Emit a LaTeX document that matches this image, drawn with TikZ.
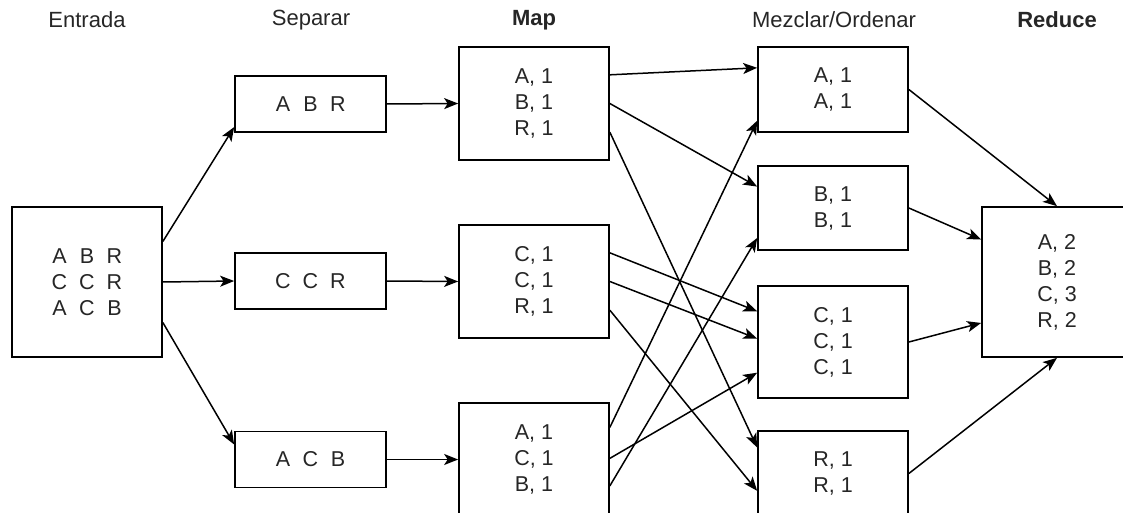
\documentclass[tikz,border=0pt]{standalone}
\usepackage{fontspec}
\setmainfont{Liberation Sans}
\usetikzlibrary{arrows.meta,calc}
% one letter of a split record, on a fixed grid
\newcommand\slot[1]{\makebox[27.5pt][c]{#1}}

\begin{document}
\begin{tikzpicture}[x=1pt,y=-1pt,
  box/.style={draw=black, line width=1.7pt, fill=white, inner sep=0pt,
    align=center, font=\fontsize{21.5}{26}\selectfont, text=black!85},
  widebox/.style={box, minimum width=150pt},
  head/.style={font=\fontsize{22}{26}\selectfont, text=black!85},
  conn/.style={line width=1.5pt, -{Stealth[length=14pt,width=11pt,inset=3.5pt]}}]

\clip (0,0) rectangle (1123,513);

% column titles
\node[head] (tEnt) at (87,20) {Entrada};
\node[head] (tSep) at (311,20) {Separar};
\node[head,font=\fontsize{22}{26}\selectfont\bfseries] (tMap) at (534,20) {Map};
\node[head] (tMez) at (834,20) {Mezclar/Ordenar};
\node[head,font=\fontsize{22}{26}\selectfont\bfseries] (tRed) at (1057,20) {Reduce};

% input
\node[widebox, minimum height=150pt] (ent) at (87,282)
  {\slot{A}\slot{B}\slot{R}\\\slot{C}\slot{C}\slot{R}\\\slot{A}\slot{C}\slot{B}};

% splits
\node[box, minimum width=151pt, minimum height=56pt] (sep1) at (310.5,104) {\slot{A}\slot{B}\slot{R}};
\node[box, minimum width=151pt, minimum height=56pt] (sep2) at (310.5,281) {\slot{C}\slot{C}\slot{R}};
\node[box, minimum width=151pt, minimum height=56pt] (sep3) at (310.5,459.5) {\slot{A}\slot{C}\slot{B}};

% map
\node[widebox, minimum height=113pt] (map1) at (534,103.5) {A, 1\\B, 1\\R, 1};
\node[widebox, minimum height=113pt] (map2) at (534,281.5) {C, 1\\C, 1\\R, 1};
\node[widebox, minimum height=113pt] (map3) at (534,459.5) {A, 1\\C, 1\\B, 1};

% shuffle / sort
\node[widebox, minimum height=85pt] (mezA) at (833,89.5) {A, 1\\A, 1};
\node[widebox, minimum height=84pt] (mezB) at (833,208) {B, 1\\B, 1};
\node[widebox, minimum height=112pt] (mezC) at (833,342) {C, 1\\C, 1\\C, 1};
\node[widebox, minimum height=85pt] (mezR) at (833,473.5) {R, 1\\R, 1};

% reduce
\node[widebox, minimum height=150pt] (red) at (1057,282) {A, 2\\B, 2\\C, 3\\R, 2};

% input -> splits
\draw[conn] ($(ent.north east)!0.233!(ent.south east)$) -- ($(sep1.north west)!0.9!(sep1.south west)$);
\draw[conn] (ent.east) -- (sep2.west);
\draw[conn] ($(ent.north east)!0.767!(ent.south east)$) -- ($(sep3.north west)!0.24!(sep3.south west)$);

% splits -> map
\draw[conn] (sep1.east) -- (map1.west);
\draw[conn] (sep2.east) -- (map2.west);
\draw[conn] (sep3.east) -- (map3.west);

% map -> shuffle
\draw[conn] ($(map1.north east)!0.25!(map1.south east)$) -- ($(mezA.north west)!0.25!(mezA.south west)$);
\draw[conn] (map1.east) -- ($(mezB.north west)!0.25!(mezB.south west)$);
\draw[conn] ($(map1.north east)!0.75!(map1.south east)$) -- ($(mezR.north west)!0.2!(mezR.south west)$);

\draw[conn] ($(map2.north east)!0.25!(map2.south east)$) -- ($(mezC.north west)!0.23!(mezC.south west)$);
\draw[conn] (map2.east) -- ($(mezC.north west)!0.47!(mezC.south west)$);
\draw[conn] ($(map2.north east)!0.75!(map2.south east)$) -- ($(mezR.north west)!0.7!(mezR.south west)$);

\draw[conn] ($(map3.north east)!0.22!(map3.south east)$) -- ($(mezA.north west)!0.86!(mezA.south west)$);
\draw[conn] ($(map3.north east)!0.49!(map3.south east)$) -- ($(mezC.north west)!0.77!(mezC.south west)$);
\draw[conn] ($(map3.north east)!0.73!(map3.south east)$) -- ($(mezB.north west)!0.85!(mezB.south west)$);

% shuffle -> reduce
\draw[conn] (mezA.east) -- (red.north);
\draw[conn] (mezB.east) -- ($(red.north west)!0.22!(red.south west)$);
\draw[conn] (mezC.east) -- ($(red.north west)!0.77!(red.south west)$);
\draw[conn] (mezR.east) -- (red.south);
\end{tikzpicture}
\end{document}
